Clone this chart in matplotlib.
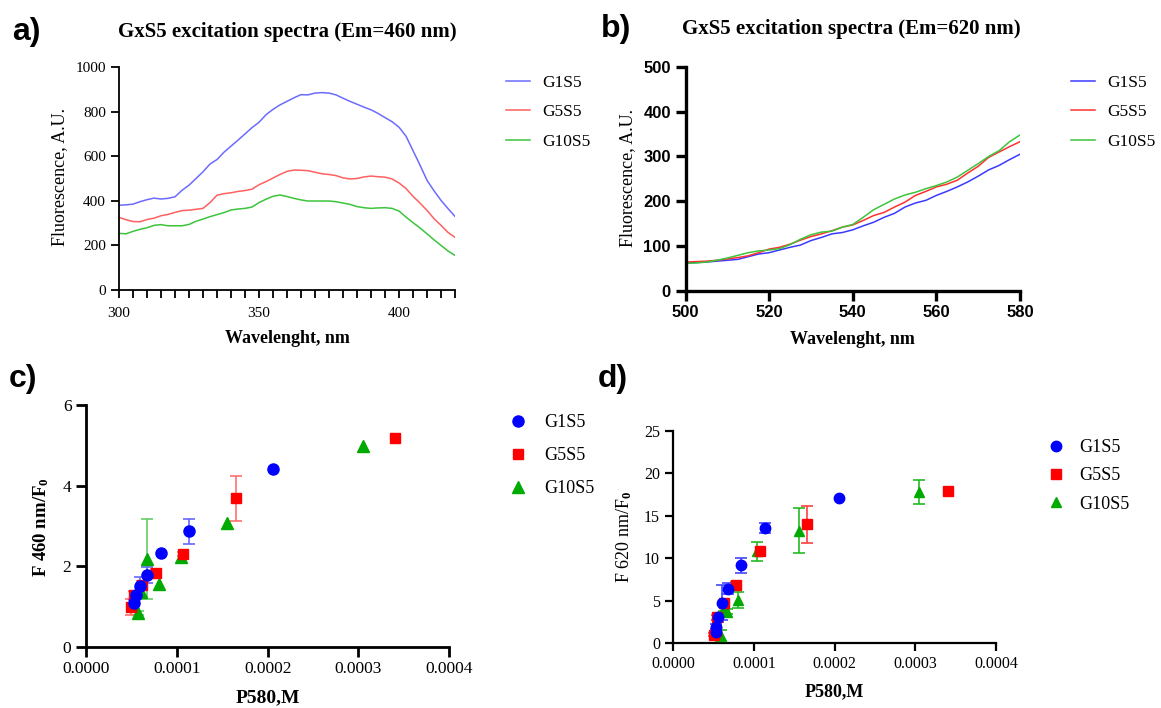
import matplotlib
matplotlib.use("Agg")
import matplotlib.pyplot as plt
import numpy as np
from matplotlib.ticker import MultipleLocator, FormatStrFormatter


# ---- panel a: excitation spectra, Em = 460 nm ----
wl_a = [300, 302.5, 305, 307.5, 310, 312.5, 315, 317.5, 320, 322.5, 325, 327.5,
        330, 332.5, 335, 337.5, 340, 342.5, 345, 347.5, 350, 352.5, 355, 357.5,
        360, 362.5, 365, 367.5, 370, 372.5, 375, 377.5, 380, 382.5, 385, 387.5,
        390, 392.5, 395, 397.5, 400, 402.5, 405, 407.5, 410, 412.5, 415, 417.5, 420]
g1s5_a = [380, 382, 385, 396, 405, 412, 408, 411, 418, 447, 470, 500,
          530, 565, 585, 618, 645, 672, 700, 728, 752, 786, 810, 830,
          846, 862, 876, 875, 883, 885, 883, 875, 860, 846, 833, 820,
          808, 792, 773, 755, 730, 690, 625, 560, 492, 445, 402, 365, 330]
g5s5_a = [326, 315, 307, 306, 316, 322, 333, 339, 348, 356, 358, 362,
          366, 392, 425, 432, 436, 442, 446, 452, 472, 486, 502, 518,
          532, 538, 537, 535, 528, 521, 518, 513, 503, 498, 500, 507,
          511, 508, 506, 498, 480, 455, 420, 390, 357, 320, 290, 258, 236]
g10s5_a = [254, 252, 263, 272, 279, 290, 293, 288, 288, 288, 294, 308,
           318, 329, 338, 347, 359, 363, 366, 372, 392, 407, 420, 426,
           419, 411, 404, 399, 399, 399, 399, 396, 390, 384, 374, 369,
           366, 368, 369, 366, 354, 327, 302, 278, 252, 225, 200, 175, 155]

# ---- panel b: excitation spectra, Em = 620 nm ----
wl_b = [500, 502.5, 505, 507.5, 510, 512.5, 515, 517.5, 520, 522.5, 525, 527.5,
        530, 532.5, 535, 537.5, 540, 542.5, 545, 547.5, 550, 552.5, 555, 557.5,
        560, 562.5, 565, 567.5, 570, 572.5, 575, 577.5, 580]
g1s5_b = [62, 63, 64, 66, 68, 70, 76, 82, 85, 91, 97, 102,
          112, 119, 127, 130, 136, 145, 153, 164, 173, 187, 196, 202,
          213, 222, 232, 243, 256, 270, 280, 293, 305]
g5s5_b = [64, 65, 66, 68, 71, 74, 78, 85, 93, 97, 104, 113,
          121, 127, 134, 142, 147, 157, 168, 175, 187, 198, 213, 222,
          232, 238, 247, 263, 278, 298, 310, 322, 333]
g10s5_b = [61, 62, 64, 68, 73, 79, 85, 89, 91, 94, 103, 115,
           125, 131, 133, 142, 148, 164, 181, 193, 205, 214, 220, 228,
           235, 243, 254, 269, 284, 300, 313, 333, 348]

# ---- panel c: F460/F0 vs P580 ----
c_g1_x = [0.528e-4, 0.55e-4, 0.594e-4, 0.675e-4, 0.826e-4, 1.134e-4, 2.055e-4]
c_g1_y = [1.09, 1.28, 1.51, 1.78, 2.32, 2.86, 4.40]
c_g1_e = [0.08, 0.10, 0.22, 0.19, 0.0, 0.31, 0.0]
c_g5_x = [0.49e-4, 0.53e-4, 0.62e-4, 0.77e-4, 1.064e-4, 1.65e-4, 3.40e-4]
c_g5_y = [0.98, 1.28, 1.53, 1.82, 2.30, 3.68, 5.17]
c_g5_e = [0.20, 0.10, 0.10, 0.10, 0.05, 0.55, 0.0]
c_g10_x = [0.576e-4, 0.605e-4, 0.675e-4, 0.80e-4, 1.046e-4, 1.549e-4, 3.046e-4]
c_g10_y = [0.84, 1.37, 2.17, 1.56, 2.22, 3.08, 4.99]
c_g10_e = [0.05, 0.08, 0.99, 0.0, 0.0, 0.0, 0.0]

# ---- panel d: F620/F0 vs P580 ----
d_g1_x = [0.525e-4, 0.53e-4, 0.55e-4, 0.607e-4, 0.68e-4, 0.835e-4, 1.14e-4, 2.054e-4]
d_g1_y = [1.37, 1.96, 3.06, 4.78, 6.43, 9.17, 13.6, 17.05]
d_g1_e = [0.3, 0.3, 0.5, 2.05, 0.65, 0.9, 0.58, 0.0]
d_g5_x = [0.51e-4, 0.525e-4, 0.537e-4, 0.632e-4, 0.777e-4, 1.074e-4, 1.657e-4, 3.40e-4]
d_g5_y = [1.0, 1.5, 3.06, 4.7, 6.86, 10.8, 14.0, 17.9]
d_g5_e = [0.2, 0.2, 0.3, 0.3, 0.4, 0.0, 2.15, 0.0]
d_g10_x = [0.59e-4, 0.63e-4, 0.67e-4, 0.806e-4, 1.04e-4, 1.554e-4, 3.05e-4]
d_g10_y = [0.86, 4.1, 3.7, 5.1, 10.8, 13.25, 17.75]
d_g10_e = [0.7, 0.3, 0.3, 0.9, 1.1, 2.65, 1.4]

labels = ["G1S5", "G5S5", "G10S5"]

plt.rcParams.update({
    "font.family": "Liberation Serif",
    "mathtext.fontset": "custom",
    "mathtext.rm": "Liberation Serif",
    "mathtext.bf": "Liberation Serif:bold",
    "mathtext.it": "Liberation Serif:italic",
})

W, H = 1161, 708
fig = plt.figure(figsize=(W / 100, H / 100), dpi=100)


def box(x0, x1, ytop, ybot):
    return [x0 / W, (H - ybot) / H, (x1 - x0) / W, (ybot - ytop) / H]


ax_a = fig.add_axes(box(119, 455, 67, 290))
ax_b = fig.add_axes(box(685.5, 1020, 67, 290.7))
ax_c = fig.add_axes(box(86, 449.3, 405, 646.7))
ax_d = fig.add_axes(box(673.3, 996, 430.7, 643.3))

for ax in (ax_a, ax_b, ax_c, ax_d):
    ax.spines["top"].set_visible(False)
    ax.spines["right"].set_visible(False)

line_legend = dict(loc="upper left", bbox_to_anchor=(1.152, 0.966), frameon=False,
                   fontsize=12.5, borderpad=0, borderaxespad=0, handlelength=1.4,
                   handletextpad=0.7, labelspacing=0.78)

# ---- a ----
ax_a.plot(wl_a, g1s5_a, color="#6b6bff", lw=1.1, label=labels[0])
ax_a.plot(wl_a, g5s5_a, color="#ff6060", lw=1.1, label=labels[1])
ax_a.plot(wl_a, g10s5_a, color="#3cc43c", lw=1.1, label=labels[2])
ax_a.set_xlim(300, 420)
ax_a.set_ylim(0, 1000)
ax_a.xaxis.set_major_locator(MultipleLocator(50))
ax_a.xaxis.set_minor_locator(MultipleLocator(5))
ax_a.yaxis.set_major_locator(MultipleLocator(200))
for s in ax_a.spines.values():
    s.set_linewidth(1.3)
ax_a.tick_params(which="both", width=1.3, length=6, labelsize=11)
ax_a.tick_params(axis="x", pad=6)
ax_a.set_xlabel("Wavelenght, nm", fontsize=13, fontweight="bold")
ax_a.xaxis.set_label_coords(0.5, -0.18)
ax_a.set_ylabel("Fluorescence, A.U.", fontsize=13)
ax_a.yaxis.set_label_coords(-0.152, 0.505)
ax_a.legend(**line_legend)

# ---- b ----
ax_b.plot(wl_b, g1s5_b, color="#3a3aff", lw=1.1, label=labels[0])
ax_b.plot(wl_b, g5s5_b, color="#ff3030", lw=1.1, label=labels[1])
ax_b.plot(wl_b, g10s5_b, color="#3cc43c", lw=1.1, label=labels[2])
ax_b.set_xlim(500, 580)
ax_b.set_ylim(0, 500)
ax_b.xaxis.set_major_locator(MultipleLocator(20))
ax_b.yaxis.set_major_locator(MultipleLocator(100))
for s in ax_b.spines.values():
    s.set_linewidth(2.4)
ax_b.tick_params(width=2.4, length=7, labelsize=12)
for t in ax_b.get_xticklabels() + ax_b.get_yticklabels():
    t.set_fontfamily("Liberation Sans")
    t.set_fontweight("bold")
ax_b.set_xlabel("Wavelenght, nm", fontsize=13, fontweight="bold")
ax_b.xaxis.set_label_coords(0.5, -0.18)
ax_b.set_ylabel("Fluorescence, A.U.", fontsize=13)
ax_b.yaxis.set_label_coords(-0.148, 0.505)
ax_b.legend(**line_legend)


def scatter_group(ax, x, y, e, color, marker, ms, ecolor, label):
    x = np.asarray(x)
    y = np.asarray(y)
    e = np.asarray(e)
    m = e > 0
    ax.errorbar(x[m], y[m], yerr=e[m], fmt="none", ecolor=ecolor,
                elinewidth=1.2, capsize=4, capthick=1.2, zorder=2)
    h, = ax.plot(x, y, linestyle="none", marker=marker, ms=ms, color=color,
                 mec=color, label=label, zorder=3)
    return h


# ---- c ----
hc3 = scatter_group(ax_c, c_g10_x, c_g10_y, c_g10_e, "#00aa00", "^", 8, "#66cc66", labels[2])
hc2 = scatter_group(ax_c, c_g5_x, c_g5_y, c_g5_e, "#ff0000", "s", 7.5, "#ff7070", labels[1])
hc1 = scatter_group(ax_c, c_g1_x, c_g1_y, c_g1_e, "#0000ff", "o", 8, "#6666ff", labels[0])
ax_c.set_xlim(0, 0.0004)
ax_c.set_ylim(0, 6)
ax_c.xaxis.set_major_locator(MultipleLocator(0.0001))
ax_c.xaxis.set_major_formatter(FormatStrFormatter("%.4f"))
ax_c.yaxis.set_major_locator(MultipleLocator(2))
for s in ax_c.spines.values():
    s.set_linewidth(2.0)
ax_c.tick_params(width=2.0, length=7, labelsize=12.5)
ax_c.set_xlabel("P580,M", fontsize=14, fontweight="bold")
ax_c.xaxis.set_label_coords(0.5, -0.176)
ax_c.set_ylabel(r"F 460 nm/F$_\mathbf{0}$", fontsize=13.5, fontweight="bold")
ax_c.yaxis.set_label_coords(-0.096, 0.495)
ax_c.legend(handles=[hc1, hc2, hc3], loc="upper left", bbox_to_anchor=(1.165, 0.962),
            frameon=False, fontsize=13, borderpad=0, borderaxespad=0,
            handlelength=1.0, handletextpad=0.95, labelspacing=0.88, numpoints=1)

# ---- d ----
hd3 = scatter_group(ax_d, d_g10_x, d_g10_y, d_g10_e, "#00aa00", "^", 7.5, "#22bb22", labels[2])
hd2 = scatter_group(ax_d, d_g5_x, d_g5_y, d_g5_e, "#ff0000", "s", 7, "#ff4040", labels[1])
hd1 = scatter_group(ax_d, d_g1_x, d_g1_y, d_g1_e, "#0000ff", "o", 7.5, "#4444ff", labels[0])
ax_d.set_xlim(0, 0.0004)
ax_d.set_ylim(0, 25)
ax_d.xaxis.set_major_locator(MultipleLocator(0.0001))
ax_d.xaxis.set_major_formatter(FormatStrFormatter("%.4f"))
ax_d.yaxis.set_major_locator(MultipleLocator(5))
for s in ax_d.spines.values():
    s.set_linewidth(1.6)
ax_d.tick_params(width=1.6, length=6, labelsize=11.5)
ax_d.set_xlabel("P580,M", fontsize=13, fontweight="bold")
ax_d.xaxis.set_label_coords(0.5, -0.187)
ax_d.set_ylabel(r"F 620 nm/F$_\mathbf{0}$", fontsize=13)
ax_d.yaxis.set_label_coords(-0.122, 0.5)
ax_d.legend(handles=[hd1, hd2, hd3], loc="upper left", bbox_to_anchor=(1.158, 0.961),
            frameon=False, fontsize=13, borderpad=0, borderaxespad=0,
            handlelength=1.0, handletextpad=0.8, labelspacing=0.63, numpoints=1)

# ---- titles and panel letters ----
fig.text(287 / W, 1 - 32 / H, "GxS5 excitation spectra (Em=460 nm)",
         ha="center", va="center", fontsize=15, fontweight="bold")
fig.text(851 / W, 1 - 29 / H, "GxS5 excitation spectra (Em=620 nm)",
         ha="center", va="center", fontsize=15, fontweight="bold")
for lx, ly, txt in [(12, 32, "a)"), (601, 29, "b)"), (9, 379, "c)"), (598, 379, "d)")]:
    fig.text(lx / W, 1 - ly / H, txt, ha="left", va="center", fontsize=23,
             fontweight="bold", family="Liberation Sans")

fig.savefig("out.png", dpi=100)
